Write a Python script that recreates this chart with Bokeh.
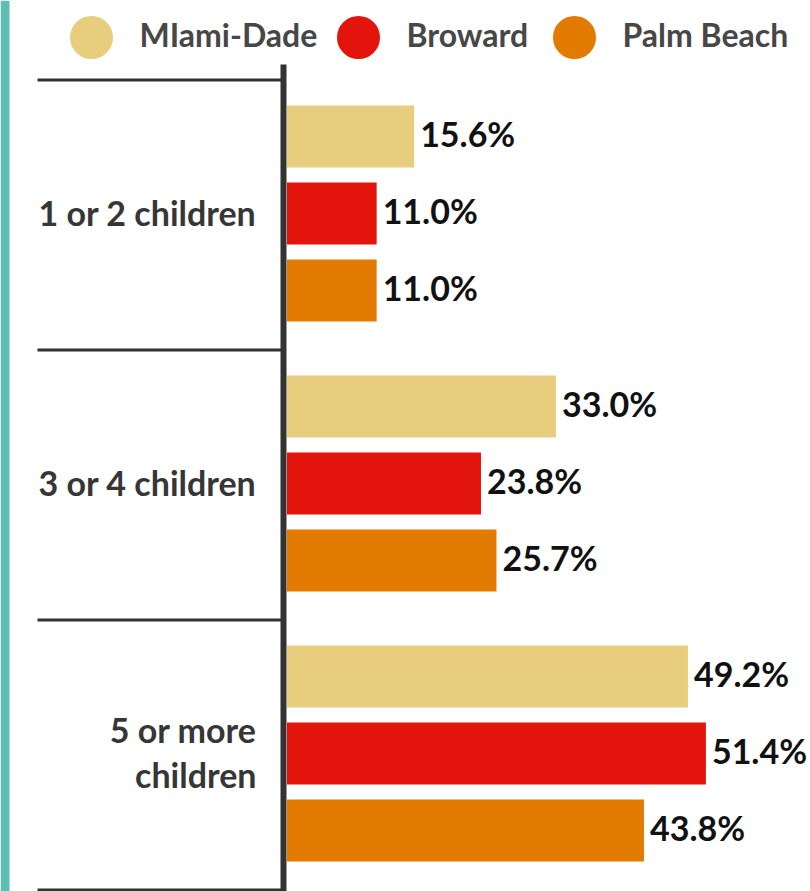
from bokeh.plotting import figure
from bokeh.models import ColumnDataSource, Range1d, BoxAnnotation
from bokeh.embed import file_html
from bokeh.resources import INLINE
from bokeh.core.properties import value

# ---- data ----
categories = ["1 or 2 children", "3 or 4 children", "5 or more\nchildren"]
counties = ["MIami-Dade", "Broward", "Palm Beach"]
miami_dade = [15.6, 33.0, 49.2]
broward = [11.0, 23.8, 51.4]
palm_beach = [11.0, 25.7, 43.8]
colors = ["#e8cd7e", "#e3140b", "#e37a02"]

# ---- layout constants (pixels) ----
W, H = 810, 891
X0_PX = 286.5          # where 0 % sits
PX_PER_PCT = 8.15
Y_FIRST_SEP = 79.5     # first group boundary
GROUP_PX = 270.0
FONT = "Lato"
TXT_DY = -3            # visual centring of Lato digits/caps


def xd(px):
    return (px - X0_PX) / PX_PER_PCT


def yd(px):
    return 0.5 + (px - Y_FIRST_SEP) / GROUP_PX


p = figure(width=W, height=H, output_backend="svg", toolbar_location=None,
           x_range=Range1d(xd(0), xd(W)), y_range=Range1d(yd(H), yd(0)),
           x_axis_location=None, y_axis_location=None,
           min_border=0)
p.outline_line_color = None
p.background_fill_color = "white"
p.border_fill_color = "white"
p.grid.visible = False

# teal strip on the left edge
p.add_layout(BoxAnnotation(left=0, right=9, left_units="screen", right_units="screen",
                           fill_color="#60bdb4", fill_alpha=1, line_color=None))

n = len(categories)
centers = [i + 1 for i in range(n)]
bounds = [i + 0.5 for i in range(n + 1)]

# group separators and the vertical axis line
p.segment(x0=xd(37), x1=xd(283), y0=bounds, y1=bounds, line_width=3, line_color="#333333")
p.segment(x0=[xd(283)], x1=[xd(283)], y0=[yd(64)], y1=[yd(H)], line_width=6, line_color="#333333")

# group labels
p.text(x=xd(256), y=centers, text=categories, text_align="right", text_baseline="middle",
       y_offset=TXT_DY, text_font=value(FONT), text_font_style="bold", text_font_size="34px",
       text_color="#363636", text_line_height=1.08)

series = [miami_dade, broward, palm_beach]
offsets = [-0.2852, 0.0, 0.2852]
bar_h = 62 / GROUP_PX
for k, (vals, col) in enumerate(zip(series, colors)):
    ys = [c - 0.0056 + offsets[k] for c in centers]
    src = ColumnDataSource(dict(y=ys, v=vals, lbl=[f"{v:.1f}%" for v in vals]))
    p.hbar(y="y", left=0, right="v", height=bar_h, source=src, fill_color=col, line_color=None)
    p.text(x="v", y="y", text="lbl", source=src, x_offset=6, y_offset=TXT_DY, text_align="left",
           text_baseline="middle", text_font=value(FONT), text_font_style="bold",
           text_font_size="34px", text_color="#111111")

# legend (drawn as glyphs above the chart)
leg_circle_px = [91, 358, 574]
leg = ColumnDataSource(dict(x=[xd(v) for v in leg_circle_px],
                            tx=[xd(v + 48) for v in leg_circle_px],
                            y=[yd(37)] * 3, name=counties, color=colors))
p.scatter(x="x", y="y", source=leg, size=40, marker="circle", fill_color="color",
          line_color="color", line_width=3)
p.text(x="tx", y="y", text="name", source=leg, text_align="left", text_baseline="middle",
       y_offset=TXT_DY, text_font=value(FONT), text_font_style="bold", text_font_size="32px",
       text_color="#474747")

open("out.html", "w").write(file_html(p, INLINE))
